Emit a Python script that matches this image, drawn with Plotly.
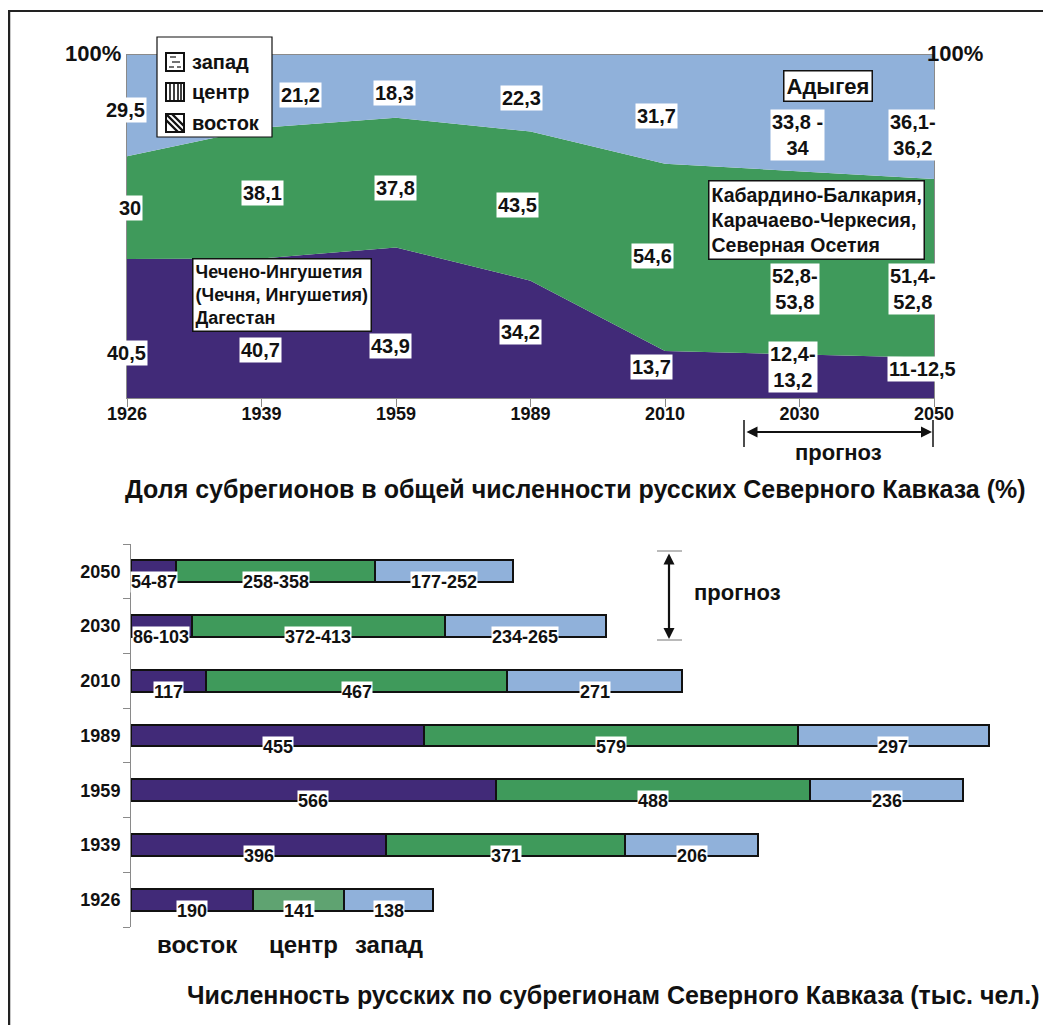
import plotly.graph_objects as go

W, H = 1051, 1025
OFF = 8  # page body margin
FONT = "Liberation Sans, Arial, sans-serif"

# ---------------- data ----------------
years = ["1926", "1939", "1959", "1989", "2010", "2030", "2050"]

# shares (%) in total Russian population of the North Caucasus
share_east = [40.5, 40.7, 43.9, 34.2, 13.7, 12.8, 11.75]
share_center = [30.0, 38.1, 37.8, 43.5, 54.6, 53.3, 52.1]
share_west = [29.5, 21.2, 18.3, 22.3, 31.7, 33.9, 36.15]

share_east_lbl = ["40,5", "40,7", "43,9", "34,2", "13,7", "12,4-<br>13,2", "11-12,5"]
share_center_lbl = ["30", "38,1", "37,8", "43,5", "54,6", "52,8-<br>53,8", "51,4-<br>52,8"]
share_west_lbl = ["29,5", "21,2", "18,3", "22,3", "31,7", "33,8 -<br>34", "36,1-<br>36,2"]

# absolute numbers (thousand people)
abs_east = [190, 396, 566, 455, 117, 94.5, 70.5]
abs_center = [141, 371, 488, 579, 467, 392.5, 308]
abs_west = [138, 206, 236, 297, 271, 249.5, 214.5]

abs_east_lbl = ["190", "396", "566", "455", "117", "86-103", "54-87"]
abs_center_lbl = ["141", "371", "488", "579", "467", "372-413", "258-358"]
abs_west_lbl = ["138", "206", "236", "297", "271", "234-265", "177-252"]

region_names = ["восток", "центр", "запад"]

# ---------------- styles ----------------
C_EAST = "#412A78"
C_CENTER = "#3F9A5B"
C_CENTER_LIGHT = "#5FA371"
C_WEST = "#90B1DA"


def X(px):
    return (px - OFF) / W


def Y(py):
    return 1 - (py - OFF) / H


fig = go.Figure()

# ---------------- top: 100% stacked area ----------------
xi = list(range(len(years)))
for vals, col in [(share_east, C_EAST), (share_center, C_CENTER), (share_west, C_WEST)]:
    fig.add_trace(go.Scatter(
        x=xi, y=vals, stackgroup="one", mode="lines",
        line=dict(width=0, color=col), fillcolor=col,
        xaxis="x", yaxis="y", hoverinfo="skip", showlegend=False))

# ---------------- bottom: stacked horizontal bars ----------------
center_cols = [C_CENTER_LIGHT] + [C_CENTER] * (len(years) - 1)
for vals, col in [(abs_east, C_EAST), (abs_center, center_cols), (abs_west, C_WEST)]:
    fig.add_trace(go.Bar(
        x=vals, y=years, orientation="h",
        marker=dict(color=col, line=dict(color="#111111", width=2)),
        xaxis="x2", yaxis="y2", hoverinfo="skip", showlegend=False))

axis_line = "#8a8a8a"
fig.update_layout(
    template="none",
    width=W, height=H,
    margin=dict(l=0, r=0, t=0, b=0, autoexpand=False),
    paper_bgcolor="white", plot_bgcolor="white",
    font=dict(family=FONT, color="#111111"),
    barmode="stack", bargap=0.6,
    xaxis=dict(domain=[X(127), X(934)], range=[0, 6], tickvals=xi, ticktext=years,
               automargin=False,
               showgrid=False, zeroline=False, showline=True, mirror=True,
               linecolor=axis_line, linewidth=1, ticks="outside", ticklen=8,
               tickcolor=axis_line, ticklabelstandoff=-9,
               tickfont=dict(size=18, weight="bold", family=FONT, color="#111")),
    yaxis=dict(domain=[Y(398), Y(55)], range=[0, 100], showgrid=False, zeroline=False,
               automargin=False,
               showticklabels=False, showline=True, mirror=True, linecolor=axis_line, linewidth=1,
               ticks=""),
    xaxis2=dict(domain=[X(131), X(131 + 1400 * 858 / 1331)], range=[0, 1400],
                showticklabels=False, showline=False, showgrid=False, zeroline=False, ticks="",
                automargin=False, anchor="y2"),
    yaxis2=dict(domain=[Y(927), Y(544)], range=[-0.5, 6.5], type="category",
                categoryorder="array", categoryarray=years, anchor="x2", automargin=False,
                showgrid=False, zeroline=False, showline=True, linecolor=axis_line, linewidth=1,
                ticks="outside", ticklen=7, tickcolor=axis_line, tickson="boundaries",
                tickfont=dict(size=18, weight="bold", family=FONT, color="#111"), ticklabelstandoff=6),
)

ann = []
shapes = []


def label(px, py, text, size=20, bg="white", border=None, align="center", xanchor="center",
          bw=1, pad=1):
    a = dict(x=X(px), y=Y(py), xref="paper", yref="paper", text=text, showarrow=False,
             font=dict(size=size, family=FONT, color="#111", weight="bold"), bgcolor=bg,
             align=align, xanchor=xanchor, yanchor="middle", borderpad=pad)
    if border:
        a.update(bordercolor=border, borderwidth=bw)
    ann.append(a)


# share labels
west_pos = [(125, 110), (300, 95), (394, 93), (521, 98), (656, 116), (797, 135), (913, 135)]
center_pos = [(130, 208), (262, 193), (395, 188), (517, 205), (652, 256), (795, 289), (913, 289)]
east_pos = [(126, 353), (260, 350), (390, 346), (520, 332), (651, 367), (793, 367), (922, 369)]
for lbls, pos in [(share_west_lbl, west_pos), (share_center_lbl, center_pos), (share_east_lbl, east_pos)]:
    for t, (px, py) in zip(lbls, pos):
        label(px, py, t, size=20)

label(93, 53, "100%", size=22, bg="rgba(0,0,0,0)")
label(955, 53, "100%", size=22, bg="rgba(0,0,0,0)")

label(828, 86, "Адыгея", size=22, border="#111", bw=1.5, pad=2)
label(816, 220, "Кабардино-Балкария,<br>Карачаево-Черкесия,<br>Северная Осетия", size=19.5,
      border="#111", bw=1.5, align="left", pad=2)
label(282, 295, "Чечено-Ингушетия<br>(Чечня, Ингушетия)<br>Дагестан", size=18,
      border="#111", bw=1.5, align="left", pad=2)

# legend box with pattern icons
shapes.append(dict(type="rect", xref="paper", yref="paper", x0=X(157), x1=X(272), y0=Y(137), y1=Y(37),
                   line=dict(color="#111", width=1.2), fillcolor="white", layer="above"))
icon_rows = [62, 92, 123]
for nm, cy in zip(["запад", "центр", "восток"], icon_rows):
    label(190, cy, nm, size=20, bg="rgba(0,0,0,0)", xanchor="left", align="left")
    shapes.append(dict(type="rect", xref="paper", yref="paper", x0=X(166), x1=X(184),
                       y0=Y(cy + 9), y1=Y(cy - 9), line=dict(color="#111", width=2),
                       fillcolor="white", layer="above"))


def seg(x0, y0, x1, y1, w=1.5, col="#111"):
    shapes.append(dict(type="line", xref="paper", yref="paper", x0=X(x0), y0=Y(y0), x1=X(x1), y1=Y(y1),
                       line=dict(color=col, width=w), layer="above"))


# запад icon: horizontal dashes
cy = icon_rows[0]
for (a, b, yy) in [(170, 176, cy - 5), (172, 180, cy), (169, 174, cy + 5), (177, 181, cy + 5)]:
    seg(a, yy, b, yy, w=1.2)
# центр icon: vertical lines
cy = icon_rows[1]
for xx in [170, 174, 178, 181]:
    seg(xx, cy - 9, xx, cy + 9, w=1.6)
# восток icon: diagonal lines
cy = icon_rows[2]
for d in [-6, 0, 6]:
    x0, y0 = 166 + max(0, d), cy - 9 + max(0, -d)
    x1, y1 = 184 - max(0, -d), cy + 9 - max(0, d)
    seg(x0, y0, x1, y1, w=2.4)

# forecast arrow (top)
ann.append(dict(x=X(932), y=Y(432), xref="paper", yref="paper", ax=745 - 932, ay=0,
                axref="pixel", ayref="pixel", text="", showarrow=True, arrowhead=2,
                arrowside="end+start", arrowsize=1, arrowwidth=2.2, arrowcolor="#111",
                standoff=0, startstandoff=0))
seg(744, 420, 744, 447, w=1.5)
seg(933, 420, 933, 447, w=1.5)
label(838, 453, "прогноз", size=22, bg="rgba(0,0,0,0)")

label(575, 489, "Доля субрегионов в общей численности русских Северного Кавказа (%)", size=25,
      bg="rgba(0,0,0,0)")

# bar labels
cum = [0] * len(years)
for vals, lbls in [(abs_east, abs_east_lbl), (abs_center, abs_center_lbl), (abs_west, abs_west_lbl)]:
    for i, (v, t) in enumerate(zip(vals, lbls)):
        ann.append(dict(x=cum[i] + v / 2, y=i, xref="x2", yref="y2", text=t, showarrow=False,
                        font=dict(size=18, family=FONT, color="#111", weight="bold"), bgcolor="white",
                        yshift=-11, borderpad=0))
        cum[i] += v

# bottom forecast arrow
ann.append(dict(x=X(669), y=Y(639), xref="paper", yref="paper", ax=0, ay=552 - 639,
                axref="pixel", ayref="pixel", text="", showarrow=True, arrowhead=2,
                arrowside="end+start", arrowsize=1, arrowwidth=2.2, arrowcolor="#111",
                standoff=0, startstandoff=0))
seg(657, 551, 682, 551, w=1, col="#777")
seg(657, 640, 682, 640, w=1, col="#777")
label(737, 592, "прогноз", size=22, bg="rgba(0,0,0,0)")

# bottom category names
for nm, px in zip(region_names, [197, 303, 389]):
    label(px, 944, nm, size=24, bg="rgba(0,0,0,0)")

label(613, 995, "Численность русских по субрегионам Северного Кавказа (тыс. чел.)", size=25,
      bg="rgba(0,0,0,0)")

# frame
seg(9, 11, 9, 1040, w=2.5, col="#222")
seg(8, 11, 1060, 11, w=2, col="#222")

fig.update_layout(annotations=ann, shapes=shapes)
fig.write_html("out.html")
